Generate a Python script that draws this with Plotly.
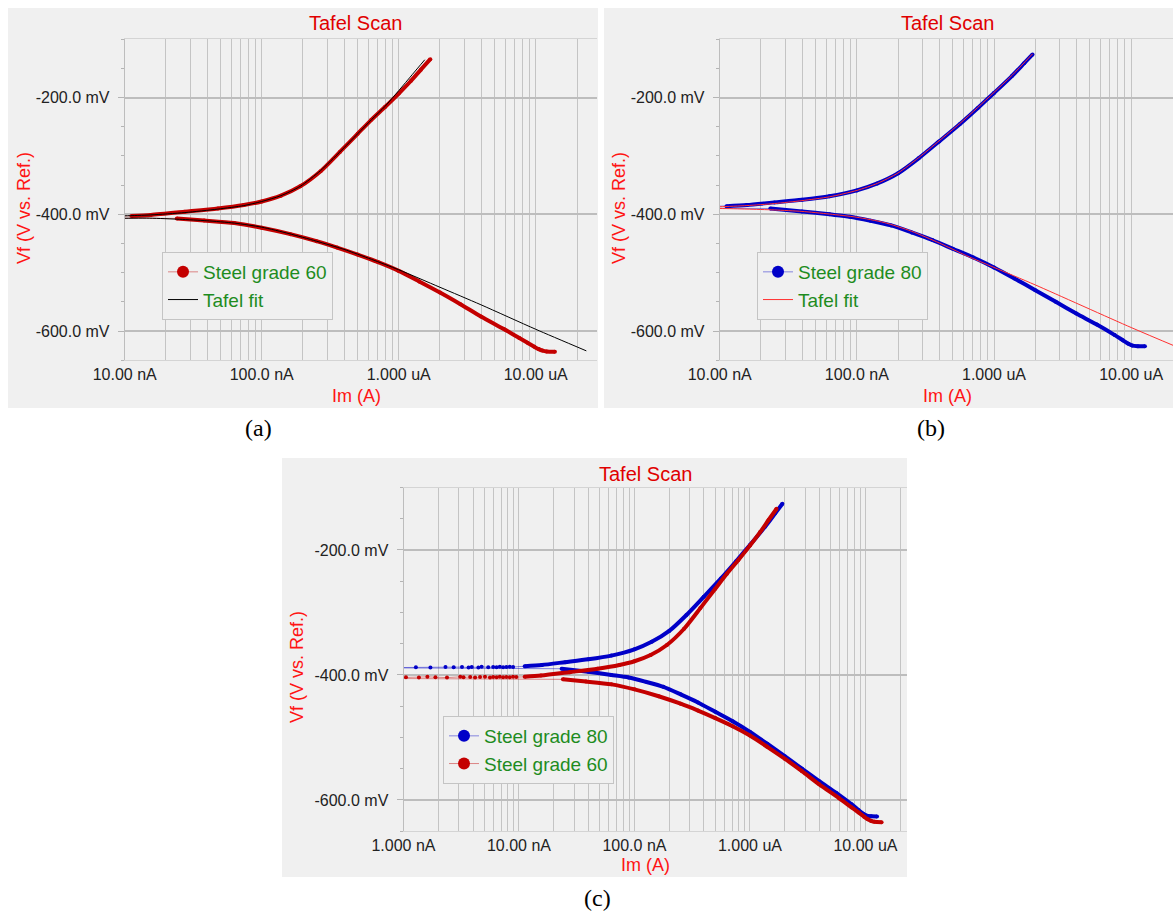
import plotly.graph_objects as go

W, H = 1173, 913
FONT = "Liberation Sans, Arial, sans-serif"
SERIF = "Liberation Serif, Times New Roman, serif"
RED_T = "#e00000"
RED_A = "#ff1414"
GREEN = "#1e8c1e"
C60 = "#c40000"
C60_FAINT = "rgba(196,0,0,0.45)"
C80 = "#0000c8"
C80_FAINT = "rgba(0,0,200,0.45)"

# ---------------- data (current in A, potential in mV) ----------------
# Steel grade 60 - cathodic branch (scan order, high -> low current)
g60_cath_I = [1.38e-5, 1.20e-5, 1.12e-5, 1.05e-5, 9.77e-6, 8.71e-6, 7.59e-6, 5.89e-6, 3.98e-6, 2.82e-6, 2.00e-6,
              1.41e-6, 1.00e-6, 7.08e-7, 5.01e-7, 3.55e-7, 2.51e-7, 1.62e-7, 1.00e-7, 6.31e-8, 3.80e-8, 2.40e-8]
g60_cath_V = [-635.5, -635, -633.5, -631, -627, -620, -612, -597, -575, -554, -534,
              -515, -497, -482, -469, -457, -446, -434, -423, -415, -410.5, -407]
# Steel grade 60 - scattered points near Ecorr
g60_near_I = [5.0e-10, 1.05e-9, 1.36e-9, 1.61e-9, 1.89e-9, 2.38e-9, 3.10e-9, 3.31e-9, 3.78e-9, 4.17e-9, 4.60e-9,
              5.08e-9, 5.61e-9, 5.98e-9, 6.40e-9, 6.82e-9, 7.29e-9, 7.78e-9, 8.32e-9, 8.89e-9, 9.48e-9]
g60_near_V = [-405.5, -403.5, -404, -403, -403.5, -404.2, -403, -403.8, -403.2, -404, -403.4,
              -403, -403.9, -403.3, -403.7, -402.9, -403.6, -403.1, -403.8, -402.8, -403.4]
# Steel grade 60 - anodic branch
g60_anod_I = [1.12e-8, 1.55e-8, 2.75e-8, 4.79e-8, 7.41e-8, 1.00e-7, 1.38e-7, 1.91e-7, 2.69e-7, 3.72e-7,
              5.01e-7, 6.31e-7, 7.94e-7, 1.00e-6, 1.23e-6, 1.45e-6, 1.70e-6]
g60_anod_V = [-403, -401, -395.5, -390, -384, -378, -368, -352, -326, -293,
              -262, -238, -216, -193, -171, -152, -134]

# Steel grade 80
g80_cath_I = [1.26e-5, 1.12e-5, 1.02e-5, 9.55e-6, 8.71e-6, 7.59e-6, 5.62e-6, 3.98e-6, 2.82e-6, 2.00e-6, 1.41e-6,
              1.00e-6, 7.08e-7, 5.01e-7, 3.55e-7, 2.51e-7, 1.78e-7, 1.26e-7, 8.91e-8, 6.31e-8, 3.98e-8, 2.34e-8]
g80_cath_V = [-626.3, -626, -625, -622, -616, -607, -589, -570, -550, -530, -510,
              -491, -474, -459, -444, -431, -419, -411, -404, -400, -395, -390]
g80_near_I = [5.0e-10, 1.28e-9, 1.71e-9, 2.31e-9, 2.72e-9, 3.21e-9, 3.66e-9, 3.90e-9, 4.45e-9,
              4.75e-9, 5.42e-9, 5.98e-9, 6.40e-9, 6.82e-9, 7.29e-9, 7.78e-9, 8.32e-9, 8.89e-9]
g80_near_V = [-388.5, -387.5, -388, -387.2, -387.8, -387.3, -388.1, -387.4, -387.9,
              -387, -387.6, -387.2, -387.8, -386.9, -387.5, -387.1, -386.8, -387.3]
g80_anod_I = [1.12e-8, 1.58e-8, 2.51e-8, 3.98e-8, 6.31e-8, 1.00e-7, 1.41e-7, 2.00e-7, 2.82e-7, 3.98e-7,
              5.62e-7, 7.59e-7, 1.00e-6, 1.35e-6, 1.66e-6, 1.91e-6]
g80_anod_V = [-386, -384, -379.5, -375, -369, -359, -347, -329.5, -304, -275,
              -245.5, -218, -192, -163, -141, -126]

# Tafel fit, panel (a)
fitA_anod_I = [1.55e-6, 1.26e-6, 1.00e-6, 7.94e-7, 6.31e-7, 5.01e-7, 3.72e-7, 2.69e-7, 1.91e-7, 1.38e-7,
               1.00e-7, 7.41e-8, 4.79e-8, 2.75e-8, 1.55e-8, 1.00e-8, 5.0e-9]
fitA_anod_V = [-135, -160, -188, -215, -238, -262, -293, -325, -352, -368,
               -378, -385, -391, -397, -401, -402.5, -403.5]
fitA_cath_I = [5.0e-9, 1.51e-8, 2.51e-8, 3.98e-8, 6.31e-8, 1.00e-7, 1.58e-7, 2.51e-7, 3.98e-7, 6.31e-7,
               1.00e-6, 2.00e-6, 3.98e-6, 1.00e-5, 2.34e-5]
fitA_cath_V = [-405.5, -406.5, -408.5, -411, -415, -422, -433, -446, -460, -477,
               -495, -525, -555, -597, -634]

# Tafel fit, panel (b)
fitB_anod_I = [1.91e-6, 1.35e-6, 1.00e-6, 7.59e-7, 5.62e-7, 3.98e-7, 2.82e-7, 2.00e-7, 1.41e-7, 1.00e-7,
               6.31e-8, 3.98e-8, 2.51e-8, 1.58e-8, 1.00e-8, 5.0e-9]
fitB_anod_V = [-125, -162, -191, -217, -244.5, -274, -303, -329, -347, -359,
               -370, -376.5, -381.5, -385, -387, -388.5]
fitB_cath_I = [5.0e-9, 1.00e-8, 1.58e-8, 2.51e-8, 3.98e-8, 6.31e-8, 1.00e-7, 1.58e-7, 2.51e-7, 3.98e-7,
               6.31e-7, 1.00e-6, 2.00e-6, 1.00e-5, 2.19e-5]
fitB_cath_V = [-390.5, -390, -391, -392.5, -395, -399.5, -405, -414, -429, -449,
               -471, -491, -521, -594, -628]

# tick labels
decades_ab = [1e-8, 1e-7, 1e-6, 1e-5]
labels_ab = ["10.00 nA", "100.0 nA", "1.000 uA", "10.00 uA"]
decades_c = [1e-9, 1e-8, 1e-7, 1e-6, 1e-5]
labels_c = ["1.000 nA", "10.00 nA", "100.0 nA", "1.000 uA", "10.00 uA"]
y_vals = [-600, -400, -200]
y_text = ["-600.0 mV", "-400.0 mV", "-200.0 mV"]


def px_x(p):
    return p / W


def px_y(p):
    return 1 - p / H


def log_ticks(decades, labels):
    vals, text = [], []
    for d, lab in zip(decades, labels):
        for m in range(1, 10):
            vals.append(m * d)
            text.append(lab if m == 1 else "")
    return vals, text


fig = go.Figure()


def add_series(xa, ya, cI, cV, nI, nV, aI, aV, color, faint):
    # dense measured branches
    fig.add_trace(go.Scatter(x=cI + [None] + aI, y=cV + [None] + aV, xaxis=xa, yaxis=ya,
                             mode="lines", line=dict(color=color, width=4, shape="spline", smoothing=0.7),
                             showlegend=False, hoverinfo="skip"))
    # all measured points in scan order
    fig.add_trace(go.Scatter(x=cI + nI + aI, y=cV + nV + aV, xaxis=xa, yaxis=ya,
                             mode="lines+markers", line=dict(color=faint, width=1),
                             marker=dict(color=color, size=4), showlegend=False, hoverinfo="skip"))


def add_legend_entry(name, color, faint, legend):
    fig.add_trace(go.Scatter(x=[None], y=[None], mode="lines+markers", name=name, legend=legend,
                             line=dict(color=faint, width=1), marker=dict(color=color, size=12)))


def add_fit(xa, ya, aI, aV, cI, cV, color, legend):
    fig.add_trace(go.Scatter(x=aI + cI, y=aV + cV, xaxis=xa, yaxis=ya, mode="lines",
                             line=dict(color=color, width=1, shape="spline", smoothing=0.7),
                             name="Tafel fit", legend=legend, hoverinfo="skip"))


# panel (a)
add_series("x", "y", g60_cath_I, g60_cath_V, g60_near_I, g60_near_V, g60_anod_I, g60_anod_V, C60, C60_FAINT)
add_legend_entry("Steel grade 60", C60, C60_FAINT, "legend")
add_fit("x", "y", fitA_anod_I, fitA_anod_V, fitA_cath_I, fitA_cath_V, "#000000", "legend")

# panel (b)
add_series("x2", "y2", g80_cath_I, g80_cath_V, g80_near_I, g80_near_V, g80_anod_I, g80_anod_V, C80, C80_FAINT)
add_legend_entry("Steel grade 80", C80, C80_FAINT, "legend2")
add_fit("x2", "y2", fitB_anod_I, fitB_anod_V, fitB_cath_I, fitB_cath_V, "#ff3030", "legend2")

# panel (c)
add_series("x3", "y3", g80_cath_I, g80_cath_V, g80_near_I, g80_near_V, g80_anod_I, g80_anod_V, C80, C80_FAINT)
add_series("x3", "y3", g60_cath_I, g60_cath_V, g60_near_I, g60_near_V, g60_anod_I, g60_anod_V, C60, C60_FAINT)
add_legend_entry("Steel grade 80", C80, C80_FAINT, "legend3")
add_legend_entry("Steel grade 60", C60, C60_FAINT, "legend3")

tv_ab, tt_ab = log_ticks(decades_ab, labels_ab)
tv_c, tt_c = log_ticks(decades_c, labels_c)

tickfont = dict(family=FONT, size=16, color="#222222")


def xaxis(domain, rng, tv, tt, anchor):
    return dict(type="log", domain=domain, range=rng, tickmode="array", tickvals=tv, ticktext=tt,
                showgrid=True, gridcolor="#c4c4c4", gridwidth=1, ticks="", tickfont=tickfont,
                showline=True, mirror=True, linecolor="#d4d4d4", linewidth=1, zeroline=False,
                automargin=False, anchor=anchor, fixedrange=True)


def yaxis(domain, anchor):
    return dict(domain=domain, range=[-650, -100], tickmode="array", tickvals=y_vals, ticktext=y_text,
                showgrid=True, gridcolor="#bdbdbd", gridwidth=1.5, ticks="outside", ticklen=6,
                tickcolor="#b4b4b4", ticklabelstandoff=5, tickfont=tickfont,
                minor=dict(tickmode="linear", tick0=0, dtick=50, ticks="outside", ticklen=3,
                           tickcolor="#b4b4b4", showgrid=False),
                showline=True, linecolor="#bdbdbd", linewidth=1, zeroline=False,
                automargin=False, anchor=anchor, fixedrange=True)


ydom_ab = [px_y(360.2), px_y(39.3)]
ydom_c = [px_y(831.2), px_y(487.5)]

fig.update_layout(
    xaxis=xaxis([px_x(124.7), px_x(597)], [-8, -4.553], tv_ab, tt_ab, "y"),
    yaxis=yaxis(ydom_ab, "x"),
    xaxis2=xaxis([px_x(719.7), 1.0], [-8, -4.695], tv_ab, tt_ab, "y2"),
    yaxis2=yaxis(ydom_ab, "x2"),
    xaxis3=xaxis([px_x(403.5), px_x(907)], [-9, -4.64], tv_c, tt_c, "y3"),
    yaxis3=yaxis(ydom_c, "x3"),
)

legend_style = dict(xanchor="left", yanchor="top", bgcolor="#f0f0f0", bordercolor="#c4c4c4", borderwidth=1,
                    font=dict(family=FONT, size=19, color=GREEN), tracegroupgap=0, itemsizing="trace")
fig.update_layout(
    legend=dict(x=px_x(162), y=px_y(252), **legend_style),
    legend2=dict(x=px_x(757), y=px_y(252), **legend_style),
    legend3=dict(x=px_x(443), y=px_y(716), **legend_style),
)

# grey panel backgrounds
shapes = []
for (x0, y0, x1, y1) in [(8, 8, 598, 408), (604, 8, 1173, 408), (282, 458, 907, 877)]:
    shapes.append(dict(type="rect", xref="paper", yref="paper", x0=px_x(x0), x1=px_x(x1),
                       y0=px_y(y1), y1=px_y(y0), fillcolor="#f0f0f0", line=dict(width=0), layer="below"))

ann = []


def text(x, y, s, size, color, family=FONT, angle=0):
    ann.append(dict(x=px_x(x), y=px_y(y), xref="paper", yref="paper", text=s, showarrow=False,
                    font=dict(family=family, size=size, color=color), textangle=angle,
                    xanchor="center", yanchor="middle"))


# panel (a)
text(355, 23, "Tafel Scan", 20, RED_T)
text(24, 208, "Vf (V vs. Ref.)", 18, RED_A, angle=-90)
text(356, 396, "Im (A)", 18, RED_A)
text(258, 428, "(a)", 24, "#000000", family=SERIF)
# panel (b)
text(947, 23, "Tafel Scan", 20, RED_T)
text(619, 208, "Vf (V vs. Ref.)", 18, RED_A, angle=-90)
text(947, 396, "Im (A)", 18, RED_A)
text(931, 428, "(b)", 24, "#000000", family=SERIF)
# panel (c)
text(645, 474, "Tafel Scan", 20, RED_T)
text(297, 667, "Vf (V vs. Ref.)", 18, RED_A, angle=-90)
text(645, 865, "Im (A)", 18, RED_A)
text(597, 898, "(c)", 24, "#000000", family=SERIF)

fig.update_layout(width=W, height=H, margin=dict(l=0, r=0, t=0, b=0), paper_bgcolor="white",
                  plot_bgcolor="white", shapes=shapes, annotations=ann, showlegend=True)

fig.write_html("out.html", post_script="document.body.style.margin='0';", config={"displayModeBar": False})
